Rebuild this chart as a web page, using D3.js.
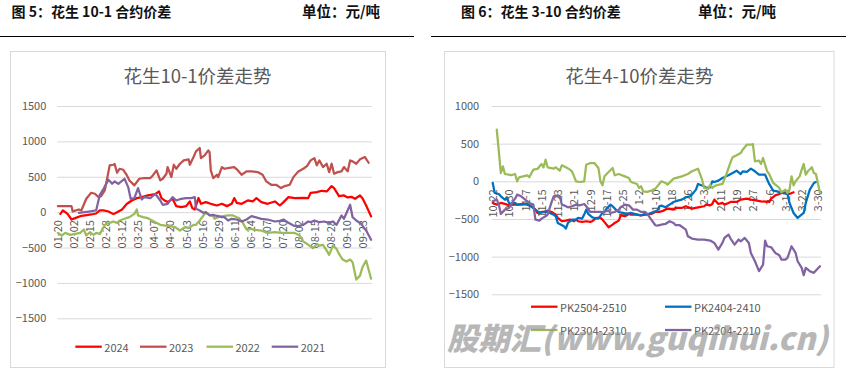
<!DOCTYPE html>
<html><head><meta charset="utf-8">
<script src="https://cdn.jsdelivr.net/npm/d3@7"></script>
<style>body{margin:0;background:#fff}svg{display:block}</style>
</head><body>
<svg id="c" width="846" height="370"></svg>
<script>
// ---------- LEFT CHART DATA (花生10-1价差走势) ----------
const leftDays = 255;           // daily categories 01-20 .. 09-30
const leftTickStep = 13;
const leftTicks = ["01-20","02-02","02-15","02-28","03-12","03-25","04-07","04-20","05-03","05-16",
  "05-29","06-11","06-24","07-07","07-20","08-02","08-15","08-28","09-10","09-23"];
const leftYTicks = [-1500,-1000,-500,0,500,1000,1500];
const leftNames = ["2024","2023","2022","2021"];
const s2024 = [[2,-24],[4,24],[6,0],[8,-28],[11,-104],[14,-85],[18,-57],[22,-47],[27,-33],[31,-19],[34,24],[37,24],[41,9],[45,-28],[48,0],[52,38],[56,118],[60,165],[64,198],[68,212],[73,236],[79,255],[82,293],[84,198],[87,160],[89,142],[93,189],[96,85],[100,71],[104,85],[107,151],[109,57],[111,38],[114,200],[116,118],[120,142],[124,118],[129,94],[133,118],[137,85],[141,118],[143,198],[145,132],[149,118],[154,165],[158,151],[161,198],[165,142],[170,118],[176,151],[180,94],[183,142],[187,212],[192,198],[199,203],[203,198],[205,274],[210,283],[214,302],[218,293],[222,368],[224,340],[228,226],[232,236],[235,208],[238,217],[241,189],[245,236],[247,198],[250,94],[254,-60]];
const s2023 = [[0,85],[11,85],[12,10],[17,38],[19,24],[23,189],[27,274],[30,260],[33,212],[35,226],[38,307],[42,661],[45,670],[46,680],[48,557],[50,613],[53,599],[56,519],[58,448],[62,378],[66,472],[70,481],[75,481],[77,519],[80,590],[83,448],[85,472],[88,542],[89,637],[92,495],[94,670],[96,613],[99,684],[102,731],[106,746],[107,670],[110,779],[112,859],[115,906],[116,764],[119,802],[122,873],[123,849],[124,590],[126,481],[129,529],[130,495],[133,637],[135,613],[139,627],[143,637],[146,590],[149,529],[153,576],[157,576],[162,566],[166,529],[169,434],[173,387],[177,387],[181,340],[184,368],[188,387],[191,495],[195,576],[199,613],[202,651],[205,731],[208,764],[210,661],[212,731],[215,637],[218,684],[220,566],[222,684],[224,543],[227,566],[230,576],[232,637],[235,576],[237,731],[239,717],[242,684],[245,746],[249,779],[252,698]];
const s2022 = [[0,-293],[3,-330],[6,-293],[10,-321],[14,-307],[18,-293],[21,-245],[23,-330],[26,-283],[29,-321],[31,-293],[34,-307],[37,-212],[39,-165],[42,-151],[45,-132],[48,-151],[50,-118],[54,-94],[58,-71],[62,-24],[64,38],[65,-47],[69,-71],[73,-85],[79,-142],[83,-179],[87,-189],[91,-198],[95,-212],[99,-260],[103,-212],[106,-226],[110,-179],[112,-179],[115,-118],[118,-47],[120,-9],[123,-38],[126,-57],[127,-94],[130,-71],[134,-57],[138,-47],[142,-47],[145,-71],[147,-85],[150,-151],[153,-245],[157,-236],[160,-250],[165,-260],[170,-293],[176,-283],[181,-293],[187,-293],[192,-293],[196,-330],[199,-415],[202,-448],[204,-472],[207,-510],[210,-448],[212,-472],[215,-463],[218,-543],[220,-604],[223,-472],[226,-519],[228,-590],[231,-670],[234,-698],[237,-670],[239,-708],[242,-953],[245,-897],[247,-779],[250,-684],[254,-940]];
const s2021 = [[17,-10],[25,9],[31,24],[34,245],[37,330],[41,458],[44,401],[46,434],[49,401],[54,472],[57,354],[59,189],[62,198],[65,340],[68,179],[70,212],[75,198],[79,260],[83,165],[85,104],[89,118],[93,212],[96,165],[100,189],[104,198],[108,198],[111,212],[112,47],[115,24],[118,-9],[120,0],[123,-47],[126,-38],[127,-47],[130,-57],[133,-71],[135,-71],[138,-118],[141,-94],[145,-104],[149,-132],[153,-104],[157,-57],[160,-71],[165,-94],[170,-104],[176,-132],[180,-123],[183,-104],[187,-151],[191,-189],[195,-198],[199,-179],[203,-132],[205,-142],[208,-118],[212,-142],[216,-132],[220,-151],[223,-132],[226,-179],[230,-47],[232,-94],[237,104],[239,-71],[242,-118],[246,-165],[250,-260],[254,-390]];
const leftColors = ["#FF0000","#C0504D","#9BBB59","#8064A2"];

// ---------- RIGHT CHART DATA (花生4-10价差走势) ----------
const rightDays = 162;          // daily categories 10-22 .. 3-31
const rightTickStep = 8;
const rightTicks = ["10-22","10-30","11-7","11-15","11-23","12-1","12-9","12-17","12-25","1-2","1-10",
  "1-18","1-26","2-3","2-11","2-19","2-27","3-6","3-14","3-22","3-30"];
const rightYTicks = [-1500,-1000,-500,0,500,1000];
const rightNames = ["PK2504-2510","PK2404-2410","PK2304-2310","PK2204-2210"];
const pk2504 = [[0,-287],[2,-309],[4,-287],[6,-300],[8,-318],[10,-309],[12,-309],[15,-300],[17,-309],[19,-331],[21,-376],[22,-420],[24,-407],[26,-407],[27,-389],[29,-407],[31,-442],[32,-486],[34,-530],[36,-522],[38,-508],[40,-530],[41,-508],[42,-530],[44,-539],[46,-530],[48,-539],[49,-530],[51,-486],[53,-486],[54,-508],[56,-575],[57,-610],[59,-575],[60,-553],[62,-522],[63,-451],[65,-464],[67,-433],[68,-442],[71,-442],[73,-451],[75,-442],[78,-433],[80,-407],[82,-407],[84,-389],[86,-362],[89,-376],[90,-354],[93,-354],[95,-331],[98,-362],[101,-345],[104,-331],[105,-309],[107,-318],[108,-301],[109,-243],[111,-301],[113,-287],[114,-309],[116,-287],[117,-274],[120,-274],[122,-243],[125,-230],[127,-243],[130,-256],[132,-265],[136,-274],[137,-230],[139,-186],[141,-168],[142,-155],[145,-155],[146,-168],[148,-146]];
const pk2404 = [[0,-22],[1,-155],[3,-168],[4,-199],[6,-243],[7,-221],[8,-287],[9,-300],[11,-287],[12,-310],[14,-310],[17,-300],[18,-318],[20,-354],[21,-376],[23,-420],[25,-407],[26,-398],[28,-420],[30,-442],[31,-464],[32,-552],[35,-597],[36,-628],[37,-552],[39,-508],[41,-508],[42,-486],[44,-495],[45,-442],[46,-376],[47,-433],[49,-478],[50,-486],[52,-495],[54,-420],[55,-407],[56,-362],[58,-309],[59,-331],[61,-389],[62,-407],[64,-420],[66,-433],[68,-420],[71,-442],[73,-451],[75,-433],[76,-442],[79,-407],[81,-389],[82,-331],[83,-323],[85,-345],[87,-309],[89,-274],[91,-256],[93,-243],[95,-212],[97,-199],[98,-177],[100,-110],[101,-35],[104,-66],[105,-88],[107,-80],[108,0],[109,-9],[111,9],[113,44],[116,80],[118,110],[120,141],[122,97],[123,133],[125,124],[127,168],[129,133],[131,88],[134,88],[136,-35],[138,-124],[140,-133],[142,-155],[145,-168],[146,-287],[148,-420],[150,-486],[153,-420],[154,-287],[156,-110],[158,-22],[159,-9]];
const pk2304 = [[2,685],[4,110],[5,199],[6,97],[8,88],[9,80],[11,97],[12,0],[13,53],[15,66],[17,80],[18,53],[20,155],[22,164],[24,230],[25,186],[26,287],[27,186],[30,168],[31,186],[33,141],[34,212],[36,186],[38,155],[39,133],[41,0],[43,-9],[45,0],[46,221],[48,243],[50,243],[52,177],[53,0],[54,-53],[55,66],[57,124],[59,177],[60,80],[62,97],[65,66],[67,44],[68,-9],[71,-35],[72,-88],[73,-66],[74,-133],[76,-141],[78,-124],[80,-97],[81,-66],[83,0],[85,-22],[86,-44],[88,9],[89,35],[93,66],[96,97],[98,133],[101,168],[103,22],[104,-88],[106,-102],[107,-44],[108,-88],[109,-66],[110,-53],[113,-35],[115,97],[117,256],[118,318],[120,345],[122,375],[123,420],[125,486],[127,486],[128,495],[129,265],[131,274],[132,230],[133,310],[135,133],[136,97],[138,-22],[141,-88],[142,-146],[144,-110],[145,-155],[146,-110],[147,66],[148,-53],[149,0],[151,66],[152,155],[153,230],[154,88],[155,133],[157,186],[158,110],[159,97],[161,-155]];
const pk2204 = [[0,-265],[2,-243],[3,-309],[4,-433],[6,-376],[8,-354],[10,-265],[11,-230],[12,-177],[14,-199],[16,-243],[18,-287],[20,-309],[21,-508],[23,-522],[24,-495],[26,-464],[27,-442],[29,-274],[30,-199],[32,-186],[33,-199],[34,-309],[35,-318],[37,-345],[39,-331],[41,-309],[43,-318],[45,-301],[46,-331],[48,-407],[49,-407],[52,-407],[54,-407],[57,-389],[58,-420],[60,-407],[62,-376],[63,-345],[65,-309],[67,-318],[69,-376],[71,-376],[73,-407],[75,-407],[76,-433],[78,-508],[80,-583],[81,-588],[83,-575],[85,-566],[87,-530],[89,-553],[90,-583],[92,-583],[95,-641],[96,-729],[98,-760],[101,-773],[104,-773],[107,-787],[109,-818],[111,-906],[113,-818],[114,-752],[116,-707],[117,-760],[119,-840],[121,-773],[122,-796],[124,-752],[126,-818],[127,-951],[129,-1061],[131,-1193],[133,-1105],[134,-787],[135,-862],[137,-875],[139,-951],[141,-982],[142,-1039],[144,-1039],[145,-1017],[147,-862],[149,-951],[150,-1061],[152,-1149],[153,-1246],[154,-1149],[156,-1193],[158,-1215],[159,-1185],[161,-1127]];
const rightColors = ["#FF0000","#0070C0","#9BBB59","#8064A2"];

// ---------- DRAWING ----------
const svg = d3.select("#c");
const FONT = "'Noto Sans CJK SC','Noto Sans',sans-serif";
const GRAY = "#595959";

function header(title, tx, unitX, lineX0, lineX1) {
  svg.append("text").attr("x", tx).attr("y", 16.5).text(title)
    .attr("font-family", FONT).attr("font-weight", 700).attr("font-size", 14).attr("fill", "#111");
  svg.append("text").attr("x", unitX).attr("y", 16.5).text("单位：元/吨")
    .attr("font-family", FONT).attr("font-weight", 700).attr("font-size", 14.5).attr("fill", "#111");
  svg.append("line").attr("x1", lineX0).attr("x2", lineX1).attr("y1", 36.5).attr("y2", 36.5)
    .attr("stroke", "#000").attr("stroke-width", 1.2);
}

function panel(cfg) {
  const g = svg.append("g");
  g.append("rect").attr("x", cfg.frame[0]).attr("y", cfg.frame[1])
    .attr("width", cfg.frame[2] - cfg.frame[0]).attr("height", cfg.frame[3] - cfg.frame[1])
    .attr("fill", "#fff").attr("stroke", "#D9D9D9").attr("stroke-width", 1);
  g.append("text").attr("x", cfg.titleX).attr("y", 75).attr("text-anchor", "middle")
    .attr("dominant-baseline", "central").text(cfg.title)
    .attr("font-family", FONT).attr("font-size", 18.5).attr("fill", GRAY);

  const x = d3.scaleLinear().domain([-0.5, cfg.n - 0.5]).range([cfg.x0, cfg.x1]);
  const y = d3.scaleLinear().domain([cfg.yTicks[0], cfg.yTicks[cfg.yTicks.length - 1]]).range([cfg.yB, cfg.yT]);

  const ya = g.append("g").attr("transform", `translate(${cfg.x0},0)`)
    .call(d3.axisLeft(y).tickValues(cfg.yTicks).tickSize(-(cfg.x1 - cfg.x0)).tickPadding(cfg.pad).tickFormat(d3.format("d")));
  ya.select(".domain").remove();
  ya.selectAll("line").attr("stroke", "#D9D9D9").attr("stroke-width", 1);
  ya.selectAll("text").attr("fill", GRAY).attr("font-size", 11).attr("font-family", FONT);

  const tickIdx = cfg.ticks.map((t, i) => i * cfg.step);
  const xa = g.append("g").attr("transform", `translate(0,${y(0)})`)
    .call(d3.axisBottom(x).tickValues(tickIdx).tickSize(0).tickFormat((d, i) => cfg.ticks[i]));
  xa.select(".domain").remove();
  xa.selectAll("text").attr("transform", "rotate(-90)").attr("text-anchor", "end")
    .attr("x", -8).attr("y", 0).attr("dy", "0.35em")
    .attr("fill", GRAY).attr("font-size", 11).attr("font-family", FONT);

  const line = d3.line().x(d => x(d[0])).y(d => y(d[1]));
  cfg.series.forEach((s, k) => {
    g.append("path").datum(s).attr("d", line).attr("fill", "none")
      .attr("stroke", cfg.colors[k]).attr("stroke-width", 2.25)
      .attr("stroke-linejoin", "round").attr("stroke-linecap", "round");
  });

  cfg.legend.forEach((p, k) => {
    g.append("line").attr("x1", p[0]).attr("x2", p[0] + 26.5).attr("y1", p[1]).attr("y2", p[1])
      .attr("stroke", cfg.colors[k]).attr("stroke-width", 2.25);
    g.append("text").attr("x", p[0] + 29).attr("y", p[1]).attr("dominant-baseline", "central")
      .text(cfg.names[k]).attr("fill", GRAY).attr("font-size", 11).attr("font-family", FONT);
  });
}

header("图 5：花生 10-1 合约价差", 11.5, 302, 0, 414);
header("图 6：花生 3-10 合约价差", 461, 698, 431, 846);

panel({
  frame: [10.5, 51.5, 385.5, 367.5], title: "花生10-1价差走势", titleX: 197.5,
  n: leftDays, step: leftTickStep, ticks: leftTicks, yTicks: leftYTicks,
  x0: 57.3, x1: 371.7, yB: 318.3, yT: 106, pad: 11,
  series: [s2024, s2023, s2022, s2021], colors: leftColors, names: leftNames,
  legend: [[75.3, 346.7], [140, 346.7], [206.5, 346.7], [271.7, 346.7]]
});

panel({
  frame: [444.5, 51.5, 834, 367.5], title: "花生4-10价差走势", titleX: 639.3,
  n: rightDays, step: rightTickStep, ticks: rightTicks, yTicks: rightYTicks,
  x0: 491.7, x1: 821, yB: 294.3, yT: 106, pad: 12.5,
  series: [pk2504, pk2404, pk2304, pk2204], colors: rightColors, names: rightNames,
  legend: [[531, 306.7], [665, 306.7], [531, 330], [665, 330]]
});

// watermark
svg.append("text").attr("x", 447).attr("y", 350).text("股期汇(www.guqihui.cn)")
  .attr("textLength", 381).attr("lengthAdjust", "spacingAndGlyphs")
  .attr("font-family", FONT).attr("font-weight", 900).attr("font-style", "italic")
  .attr("font-size", 31).attr("fill", "#999").attr("opacity", 0.7);
</script>
</body></html>
